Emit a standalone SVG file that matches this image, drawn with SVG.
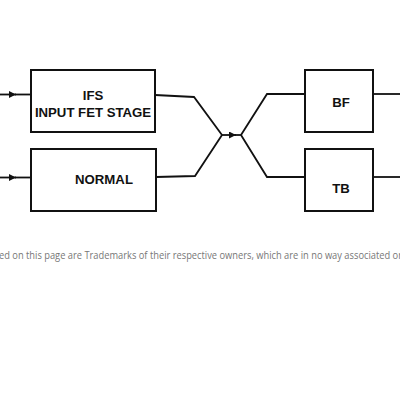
<svg xmlns="http://www.w3.org/2000/svg" width="400" height="400" viewBox="0 0 400 400">
<defs>
<style>
.box{fill:#fff;stroke:#111;stroke-width:2}
.wire{fill:none;stroke:#111;stroke-width:1.8;stroke-linejoin:miter}
.lbl{font-family:"Liberation Sans",Arial,sans-serif;font-weight:bold;font-size:13.2px;fill:#111;text-anchor:middle}
.foot{font-family:"Open Sans","Noto Sans",sans-serif;font-size:10px;fill:#777}
</style>
<marker id="arr" viewBox="0 0 10 10" refX="10" refY="5" markerWidth="9" markerHeight="7" markerUnits="userSpaceOnUse" orient="auto">
<path d="M0,0 L10,5 L0,10 z" fill="#111"/>
</marker>
</defs>
<rect width="400" height="400" fill="#fff"/>
<g id="connectors">
<path class="wire" d="M0,94.5 H16" marker-end="url(#arr)"/>
<path class="wire" d="M15,94.5 H31"/>
<path class="wire" d="M0,177.5 H16" marker-end="url(#arr)"/>
<path class="wire" d="M15,177.5 H31"/>
<path class="wire" d="M155,95 L194,97 L222,135"/>
<path class="wire" d="M156,177 L195,176 L222,135"/>
<path class="wire" d="M222,135 H236" marker-end="url(#arr)"/>
<path class="wire" d="M235,135 H241"/>
<path class="wire" d="M241,135 L267,94 H305"/>
<path class="wire" d="M241,135 L267,177 H305"/>
<path class="wire" d="M373,94 H400"/>
<path class="wire" d="M373,177 H400"/>
</g>
<g id="ifs">
<rect class="box" x="31" y="70" width="124" height="62"/>
<text class="lbl" x="93" y="100">IFS</text>
<text class="lbl" x="93" y="116.5">INPUT FET STAGE</text>
</g>
<g id="normal">
<rect class="box" x="31" y="149" width="125" height="62"/>
<text class="lbl" x="104" y="184">NORMAL</text>
</g>
<g id="bf">
<rect class="box" x="305" y="70" width="68" height="62"/>
<text class="lbl" x="341" y="106.5">BF</text>
</g>
<g id="tb">
<rect class="box" x="305" y="149" width="68" height="62"/>
<text class="lbl" x="341" y="192.5">TB</text>
</g>
<text class="foot" x="-1" y="258.5" textLength="403" lengthAdjust="spacingAndGlyphs">ed on this page are Trademarks of their respective owners, which are in no way associated or</text>
</svg>
